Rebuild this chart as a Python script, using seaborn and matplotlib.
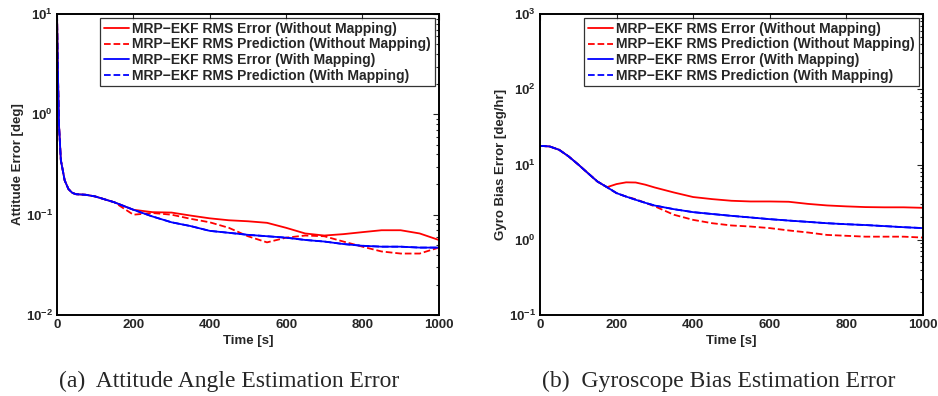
"""Attitude / gyro-bias RMS error comparison, MRP-EKF with and without mapping."""

import matplotlib
matplotlib.use("Agg")
import matplotlib.pyplot as plt
import numpy as np
import seaborn as sns
from matplotlib.ticker import LogLocator, NullFormatter

sns.set_theme(style="white", context="paper")
plt.rcParams["font.family"] = ["Liberation Sans", "DejaVu Sans"]
plt.rcParams["mathtext.default"] = "bf"

# ---- data ----
t_att = [0, 2, 5, 10, 20, 30, 40, 50, 75, 100, 150, 200, 250, 300, 350, 400,
         450, 500, 550, 600, 650, 700, 750, 800, 850, 900, 950, 1000]
att_err_nomap = [10, 3.0, 0.8, 0.35, 0.22, 0.18, 0.165, 0.16, 0.158, 0.152, 0.133, 0.112,
                 0.106, 0.105, 0.098, 0.092, 0.088, 0.086, 0.083, 0.074, 0.065, 0.062,
                 0.064, 0.067, 0.070, 0.070, 0.065, 0.056]
att_pred_nomap = [10, 3.0, 0.8, 0.35, 0.22, 0.18, 0.165, 0.16, 0.158, 0.152, 0.133, 0.100,
                  0.104, 0.100, 0.091, 0.084, 0.074, 0.061, 0.053, 0.059, 0.062, 0.061,
                  0.054, 0.048, 0.043, 0.041, 0.041, 0.047]
att_err_map = [10, 3.0, 0.8, 0.35, 0.22, 0.18, 0.165, 0.16, 0.158, 0.152, 0.133, 0.112,
               0.096, 0.084, 0.077, 0.069, 0.066, 0.063, 0.061, 0.059, 0.056, 0.054,
               0.051, 0.049, 0.048, 0.048, 0.047, 0.047]
att_pred_map = att_err_map

t_gyro = [0, 25, 50, 75, 100, 125, 150, 175, 200, 225, 250, 275, 300, 350, 400,
          450, 500, 550, 600, 650, 700, 750, 800, 850, 900, 950, 1000]
gyro_err_nomap = [17.7, 17.4, 15.7, 12.8, 10.0, 7.7, 5.95, 5.0, 5.5, 5.8, 5.77, 5.4, 4.95,
                  4.25, 3.7, 3.47, 3.3, 3.23, 3.23, 3.2, 3.0, 2.86, 2.78, 2.72, 2.7, 2.7, 2.66]
gyro_pred_nomap = [17.7, 17.4, 15.7, 12.8, 10.0, 7.7, 5.95, 5.0, 4.17, 3.75, 3.46, 3.1, 2.78,
                   2.15, 1.84, 1.66, 1.55, 1.5, 1.43, 1.33, 1.25, 1.16, 1.13, 1.1, 1.1, 1.1, 1.07]
gyro_err_map = [17.7, 17.4, 15.7, 12.8, 10.0, 7.7, 5.95, 5.0, 4.17, 3.75, 3.4, 3.1, 2.85,
                2.55, 2.33, 2.2, 2.08, 1.98, 1.88, 1.8, 1.73, 1.66, 1.61, 1.57, 1.52, 1.47, 1.43]
gyro_pred_map = gyro_err_map

labels = [
    "MRP\u2212EKF RMS Error (Without Mapping)",
    "MRP\u2212EKF RMS Prediction (Without Mapping)",
    "MRP\u2212EKF RMS Error (With Mapping)",
    "MRP\u2212EKF RMS Prediction (With Mapping)",
]
colors = ["#ff0000", "#ff0000", "#0000ff", "#0000ff"]
styles = ["-", "--", "-", "--"]
FS = 9.5


def draw_panel(ax, t, series, ylim, ylabel, caption):
    for y, lab, c, ls in zip(series, labels, colors, styles):
        sns.lineplot(x=t, y=y, ax=ax, color=c, linestyle=ls, linewidth=1.3, label=lab)
    ax.set_yscale("log")
    ax.set_xlim(0, 1000)
    ax.set_ylim(*ylim)
    ax.set_xticks([0, 200, 400, 600, 800, 1000])
    ax.yaxis.set_major_locator(LogLocator(base=10, numticks=10))
    ax.yaxis.set_minor_locator(LogLocator(base=10, subs=np.arange(2, 10), numticks=20))
    ax.yaxis.set_minor_formatter(NullFormatter())
    ax.tick_params(which="both", direction="in", top=True, right=True,
                   labelsize=FS, width=0.8, pad=3)
    ax.tick_params(which="major", length=4)
    ax.tick_params(which="minor", length=2)
    for lab in ax.get_xticklabels() + ax.get_yticklabels():
        lab.set_fontweight("bold")
    for sp in ax.spines.values():
        sp.set_linewidth(1.4)
        sp.set_color("black")
    ax.set_xlabel("Time [s]", fontsize=FS, fontweight="bold", labelpad=3)
    ax.set_ylabel(ylabel, fontsize=FS, fontweight="bold", labelpad=1)
    leg = ax.legend(loc="upper right", frameon=True, fancybox=False,
                    edgecolor="black", borderpad=0.25, labelspacing=0.12,
                    handlelength=1.8, handletextpad=0.25, borderaxespad=0.3,
                    prop={"weight": "bold", "size": 10})
    leg.get_frame().set_linewidth(0.9)
    ax.text(0.005, -0.219, caption, transform=ax.transAxes, ha="left", va="center",
            fontsize=17, family=["Liberation Serif", "DejaVu Serif"])


fig = plt.figure(figsize=(9.38, 3.96), dpi=100)
ax1 = fig.add_axes([0.0608, 0.2045, 0.407, 0.760])
ax2 = fig.add_axes([0.5757, 0.2045, 0.408, 0.760])

draw_panel(ax1, t_att, [att_err_nomap, att_pred_nomap, att_err_map, att_pred_map],
           (1e-2, 1e1), "Attitude Error [deg]", "(a)  Attitude Angle Estimation Error")
draw_panel(ax2, t_gyro, [gyro_err_nomap, gyro_pred_nomap, gyro_err_map, gyro_pred_map],
           (1e-1, 1e3), "Gyro Bias Error [deg/hr]", "(b)  Gyroscope Bias Estimation Error")

fig.savefig("out.png", dpi=100)
